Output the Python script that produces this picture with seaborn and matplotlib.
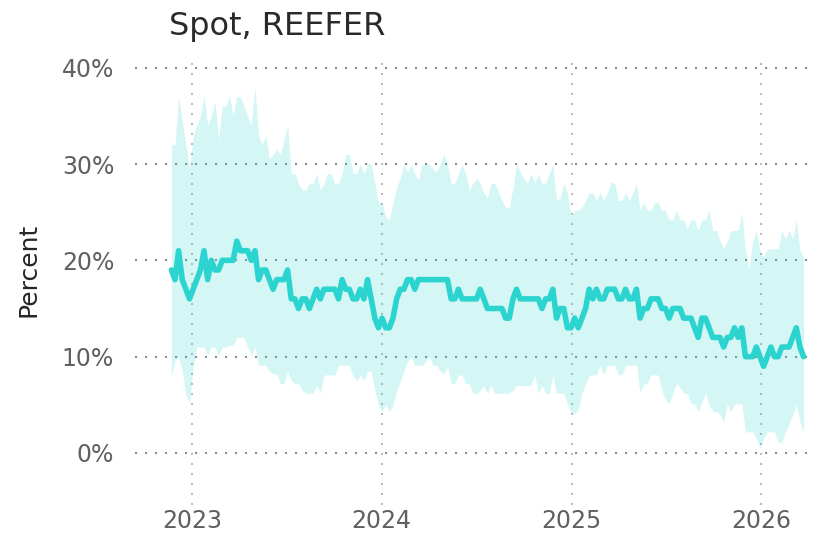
import pandas as pd
import numpy as np
import matplotlib
matplotlib.use('Agg')
import matplotlib.pyplot as plt
import matplotlib.dates as mdates
import seaborn as sns

# weekly series, values in percent
start_date = '2022-11-22'

median = [19, 18, 21, 18, 17, 16, 17, 18, 19, 21,
          18, 20, 19, 19, 20, 20, 20, 20, 22, 21,
          21, 21, 20, 21, 18, 19, 19, 18, 17, 18,
          18, 18, 19, 16, 16, 15, 16, 16, 15, 16,
          17, 16, 17, 17, 17, 17, 16, 18, 17, 17,
          16, 16, 17, 16, 18, 16, 14, 13, 14, 13,
          13, 14, 16, 17, 17, 18, 18, 17, 18, 18,
          18, 18, 18, 18, 18, 18, 18, 16, 16, 17,
          16, 16, 16, 16, 16, 17, 16, 15, 15, 15,
          15, 15, 14, 14, 16, 17, 16, 16, 16, 16,
          16, 16, 15, 16, 16, 17, 14, 15, 15, 13,
          13, 14, 13, 14, 15, 17, 16, 17, 16, 16,
          17, 17, 17, 16, 16, 17, 16, 16, 17, 14,
          15, 15, 16, 16, 16, 15, 15, 14, 15, 15,
          15, 14, 14, 14, 13, 12, 14, 14, 13, 12,
          12, 12, 11, 12, 12, 13, 12, 13, 10, 10,
          10, 11, 10, 9, 10, 11, 10, 10, 11, 11,
          11, 12, 13, 11, 10]

upper = [32, 32, 37, 34.5, 32, 29.5, 33, 34, 35, 37,
         34, 35, 36.5, 32.5, 36, 36, 37, 35, 37, 37,
         36, 35, 34, 38, 33, 32, 33, 30.5, 31, 31.5,
         31, 32.5, 34, 29, 29, 28, 27.3, 27.3, 28, 28,
         29, 27.3, 28, 29, 29, 28, 28, 29, 31, 31,
         29, 29, 30, 29, 30, 30, 28, 26, 26, 24.5,
         24.2, 26, 27.5, 28.5, 30, 29.2, 30, 29, 28.3, 30,
         30, 30, 29.5, 29.2, 30, 31, 30, 28, 28, 29,
         30, 29, 27.3, 28, 28.5, 28, 27, 26.5, 28, 28,
         27.1, 26.2, 25.5, 25.5, 27.5, 30, 29.2, 28.5, 28, 29,
         28, 29, 28, 28, 29, 30, 26.2, 26.5, 28, 27,
         24.5, 25.2, 25.2, 25.5, 26.2, 27, 27, 26.2, 27, 26.2,
         27, 28.1, 28, 26.2, 26.2, 27, 26.2, 27, 28, 25.2,
         26, 25.2, 25.2, 26, 26, 25.2, 25.2, 24.2, 24.2, 25.2,
         24.2, 24.2, 23.3, 24.2, 24.2, 23.1, 24.2, 24.2, 25.2, 23.1,
         23.1, 22, 21.2, 22, 23.1, 23.1, 23.1, 25, 21, 19.1,
         22, 23.1, 21, 20.3, 21.2, 21.2, 21.2, 21.2, 23.1, 22.2,
         23.1, 22.2, 24.2, 21, 20.3]

lower = [8, 9.6, 10, 8.6, 6, 5.1, 8.9, 11, 11, 11,
         10.1, 11, 11, 10.1, 11, 11, 11.2, 11.2, 12, 12,
         12, 11, 10.1, 11, 9.1, 9.1, 9.1, 8.5, 8.2, 8.2,
         7.2, 7.2, 8.5, 7.5, 7.2, 7.2, 6.5, 6.2, 6.2, 6.2,
         7, 6.2, 8.1, 8.1, 8.1, 8.1, 9.1, 9.1, 9.1, 9.1,
         8, 7.5, 8.1, 7.5, 8.5, 8.5, 6.5, 5, 4.3, 5,
         4.3, 5, 6.5, 7.4, 8.5, 9.5, 10, 9.1, 9.1, 9.1,
         9.5, 10, 9.1, 9.1, 8.5, 8.2, 9, 7.2, 7.2, 8.1,
         8.1, 7.2, 7.2, 6.2, 6.2, 6.5, 7, 6.2, 7, 6.2,
         6.2, 6.2, 6.2, 6.2, 6.5, 7, 7, 7, 7, 7,
         8.1, 6.2, 7, 6.2, 6.2, 8.1, 6.2, 6.2, 6.2, 5.1,
         4.1, 4.1, 4.5, 6.2, 7.2, 8.1, 8.1, 8.1, 9.1, 8.1,
         9.1, 9.1, 9.1, 8.1, 8.1, 9.1, 9.1, 9.1, 9.1, 6.2,
         7.2, 7.2, 8.1, 8.1, 8.1, 6.5, 5.5, 5.1, 6.2, 7.2,
         6.8, 6.2, 6.2, 5.1, 5.1, 4.3, 5.2, 6.2, 5, 4.3,
         4.3, 4, 3.2, 5.1, 4.3, 5.1, 5.1, 5.1, 2.2, 2.2,
         2.2, 1.5, 0.5, 1.5, 2.2, 2.2, 2.2, 1.1, 1.1, 2.2,
         3, 4, 5.1, 3.2, 2.2]

year_ticks = ['2023-01-01', '2024-01-01', '2025-01-01', '2026-01-01']
year_labels = ['2023', '2024', '2025', '2026']
pct_ticks = [0, 10, 20, 30, 40]

df = pd.DataFrame({
    'date': pd.date_range(start_date, periods=len(median), freq='7D'),
    'median': median,
    'upper': upper,
    'lower': lower,
})

sns.set_theme(style='white')
plt.rcParams['font.family'] = ['DejaVu Sans']

teal = '#2bd4cf'

fig = plt.figure(figsize=(8.2, 5.37), dpi=100)
ax = fig.add_axes([135 / 820, 32 / 537, 680 / 820, 445 / 537])

ax.fill_between(df['date'], df['lower'], df['upper'], color=teal, alpha=0.2, linewidth=0)
sns.lineplot(data=df, x='date', y='median', ax=ax, color=teal, linewidth=4)

ax.set_xlim(pd.Timestamp('2022-09-13'), pd.Timestamp('2026-04-15'))
ax.set_ylim(-5.4, 40.8)

ax.set_yticks(pct_ticks)
ax.set_yticklabels([f'{t}%' for t in pct_ticks])
ax.set_xticks(pd.to_datetime(year_ticks))
ax.set_xticklabels(year_labels)

ax.tick_params(axis='y', labelsize=17, colors='#606060', length=0, pad=15)
ax.tick_params(axis='x', labelsize=17, colors='#606060', length=0, pad=3)

ax.set_axisbelow(True)
ax.yaxis.grid(True, color='#8c8c8c', linestyle=(0, (1, 3.8)), linewidth=1.5)
ax.xaxis.grid(True, color='#bdbdbd', linestyle=(0, (1, 3.8)), linewidth=1.5)

for s in ax.spines.values():
    s.set_visible(False)

ax.set_xlabel('')
ax.set_ylabel('')
fig.text(28 / 820, 1 - 270 / 537, 'Percent', rotation=90, ha='center', va='center',
         fontsize=18, color='#262626')
fig.text(169 / 820, 1 - 27 / 537, 'Spot, REEFER', ha='left', va='center',
         fontsize=23, color='#2a2a2a')

plt.savefig('out.png', dpi=100)
